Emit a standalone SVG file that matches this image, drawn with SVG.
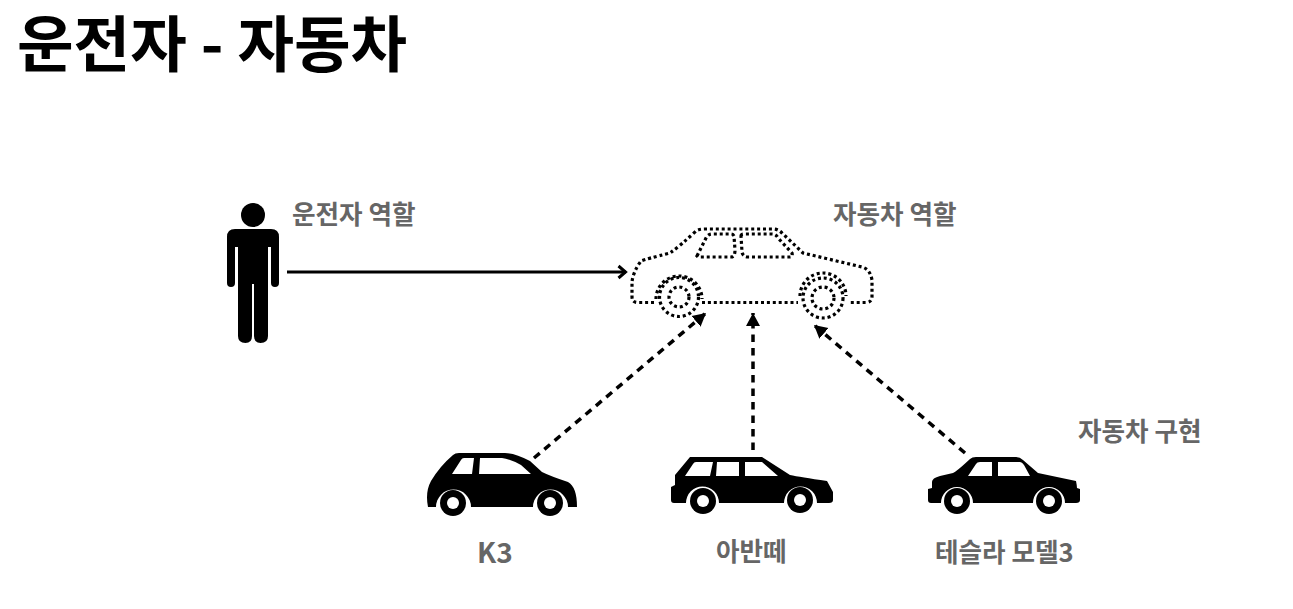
<svg xmlns="http://www.w3.org/2000/svg" width="1293" height="609" viewBox="0 0 1293 609">
<style>
text{font-family:"Noto Sans CJK KR","Noto Sans",sans-serif;font-weight:700}
.t{font-size:61.500px;fill:#000}
.l{font-size:25.600px;fill:#666}
.dot{fill:none;stroke:#000;stroke-width:3.200;stroke-dasharray:3 2.900}
.s{fill:none;stroke:#000;stroke-width:3}
.d{fill:none;stroke:#000;stroke-width:3.500;stroke-dasharray:7.500 6}
.w{fill:#fff}
</style>
<defs>
<marker id="o" markerUnits="userSpaceOnUse" markerWidth="14" markerHeight="16" refX="12.500" refY="8" orient="auto"><path d="M5 2L12 8L5 14" fill="none" stroke="#000" stroke-width="3"/></marker>
<marker id="f" markerUnits="userSpaceOnUse" markerWidth="16" markerHeight="16" refX="13" refY="8" orient="auto"><path d="M0 1L13 8L0 15Z" fill="#000"/></marker>
</defs>
<rect width="1293" height="609" fill="#fff"/>
<text class="t" x="17" y="67">운전자 - 자동차</text>
<g id="driver">
<circle cx="253" cy="215" r="12"/>
<path d="M235 229H271Q279 229 279 237V283Q279 287 275 287Q271 287 271 283V247H268V336Q268 343 260.500 343Q254 343 254 336V284H252V336Q252 343 245.500 343Q238 343 238 336V247H235V283Q235 287 231 287Q227 287 227 283V237Q227 229 235 229Z"/>
<text class="l" x="292" y="224">운전자 역할</text>
</g>
<g id="car-role">
<path class="dot" d="M654 302.500H637Q632 302 632 297V282Q633 272 641 261Q646 259 670 253Q680 246 696 231Q699 229 705 229H773Q778 229 782 233L803 253L862 267Q870 269 872 280V297Q872 302 866 302.500H848"/>
<path class="dot" d="M702 302.500H798"/>
<path class="dot" d="M697 256L706 238Q708 234 712 234H731Q733 234 734 236L735 250Q735 257 731 257H698Z"/>
<path class="dot" d="M741 236Q741 234 744 234H772Q776 234 778 238L792 253Q793 257 790 257H748Q743 257 742 252Z"/>
<circle class="dot" cx="679" cy="297" r="19.500"/>
<circle class="dot" cx="679" cy="297" r="10"/>
<path class="dot" d="M656 299A23 23 0 0 1 702 299"/>
<circle class="dot" cx="823" cy="298" r="20"/>
<circle class="dot" cx="823" cy="298" r="11"/>
<path class="dot" d="M800 296A23 23 0 0 1 846 296"/>
<text class="l" x="833" y="224">자동차 역할</text>
</g>
<g id="k3">
<path d="M428 507Q425 492 431 481Q440 466 453 455Q455 453 459 453H505Q515 453 530 461L542 472Q550 476 568 482Q577 487 577 507H568A17 17 0 0 0 533 507H471A17 17 0 0 0 436 507Z"/>
<path class="w" d="M452 474L461 460Q462 458 464 458H474L472 474ZM480 458H502Q510 459 521 465L531 474H479Z"/>
<circle cx="453" cy="503" r="13"/><circle class="w" cx="453" cy="503" r="6"/>
<circle cx="550" cy="503" r="13"/><circle class="w" cx="550" cy="503" r="6"/>
<text class="l" x="477" y="563" style="font-size:28px">K3</text>
</g>
<g id="avante">
<path d="M674 503Q671 503 671 500V487L675 485V475L690 457H762L790 475Q800 477 827 481L833 492V500Q833 503 829 503H817A16 16 0 0 0 784 503H719A16 16 0 0 0 686 503Z"/>
<path class="w" d="M685 476L693 464Q694 462 696 462H713L710 476ZM717 462H739V476H716ZM745 462H762L778 476H745Z"/>
<circle cx="703" cy="501" r="13"/><circle class="w" cx="703" cy="501" r="6"/>
<circle cx="800" cy="500" r="13"/><circle class="w" cx="800" cy="500" r="6"/>
<text class="l" x="716" y="561">아반떼</text>
</g>
<g id="tesla">
<path d="M931 503Q928 503 928 500V489L932 488V482Q932 478 940 476L953 473Q956 472 970 459Q972 457 976 457H1016Q1020 457 1023 460L1038 473L1076 481Q1077 486 1077 488L1080 489V500Q1080 503 1076 503H1065A16 16 0 0 0 1033 503H973A16 16 0 0 0 941 503Z"/>
<path class="w" d="M968 476L976 464Q977 462 980 462H992V476ZM998 462H1020Q1022 462 1024 465L1030 476H998Z"/>
<circle cx="957" cy="501" r="13"/><circle class="w" cx="957" cy="501" r="6"/>
<circle cx="1049" cy="501" r="13"/><circle class="w" cx="1049" cy="501" r="6"/>
<text class="l" x="935" y="562">테슬라 모델3</text>
</g>
<text class="l" x="1078" y="441">자동차 구현</text>
<g id="connectors">
<path class="s" d="M287 272H626" marker-end="url(#o)"/>
<path class="d" d="M534 458L706 313" marker-end="url(#f)"/>
<path class="d" d="M753 450V313" marker-end="url(#f)"/>
<path class="d" d="M965 453L814 325" marker-end="url(#f)"/>
</g>
</svg>
